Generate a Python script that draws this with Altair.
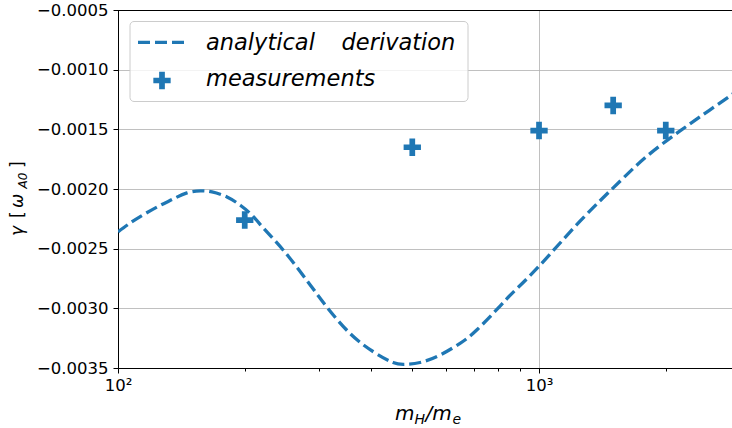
import altair as alt
import pandas as pd

# ---- data ----
curve_x = [100, 107.0, 115.1, 124.9, 134.4, 145.8, 156.9, 167.2, 181.5, 195.2,
           208.1, 223.8, 247.0, 280.6, 313.1, 355.7, 404.2, 450.0, 480.5, 521.6,
           581.9, 649.2, 711.2, 808.0, 868.8, 1005.5, 1251.4, 1557.2, 1802.8,
           2084.5, 2412.5, 2843.3, 2873]
curve_y = [-0.002359, -0.002284, -0.002214, -0.002144, -0.002088, -0.002033,
           -0.002016, -0.002025, -0.002067, -0.002136, -0.00222, -0.002345,
           -0.002513, -0.002764, -0.002987, -0.00321, -0.003364, -0.003454,
           -0.003469, -0.003454, -0.003391, -0.003293, -0.003182, -0.002981,
           -0.002864, -0.002638, -0.00227, -0.001935, -0.001726, -0.001554,
           -0.001395, -0.00122, -0.001208]
meas_x = [200, 500, 1000, 1500, 2000]
meas_y = [-0.00226, -0.00165, -0.00151, -0.00130, -0.00151]

y_ticks = [-0.0035, -0.0030, -0.0025, -0.0020, -0.0015, -0.0010, -0.0005]
x_ticks = [100, 200, 300, 400, 500, 600, 700, 800, 900, 1000, 2000]

BLUE = "#1f77b4"
FONT = "DejaVu Sans"
W, H = 614, 358
PLUS = "M-0.33,-1H0.33V-0.33H1V0.33H0.33V1H-0.33V0.33H-1V-0.33H-0.33Z"

curve = pd.DataFrame({"x": curve_x, "y": curve_y})
meas = pd.DataFrame({"x": meas_x, "y": meas_y})

xscale = alt.Scale(type="log", domain=[100, 2873], nice=False)
yscale = alt.Scale(domain=[-0.0035, -0.0005], nice=False, zero=False)

major = "datum.value == 100 || datum.value == 1000"

xaxis = alt.Axis(
    values=x_ticks,
    labelExpr="datum.value == 100 ? '10²' : (datum.value == 1000 ? '10³' : '')",
    tickSize={"condition": {"test": major, "value": 5}, "value": 3},
    gridOpacity={"condition": {"test": major, "value": 1}, "value": 0},
    grid=True, gridColor="#b0b0b0", gridWidth=0.8,
    labelFont=FONT, labelFontSize=16.5, labelColor="black", labelPadding=4,
    domainColor="black", tickColor="black", domainWidth=1, tickWidth=1,
    title=None, labelFlush=False, labelOverlap=False,
)
yaxis = alt.Axis(
    values=y_ticks,
    labelExpr="replace(format(datum.value, '.4f'), '-', '−')",
    grid=True, gridColor="#b0b0b0", gridWidth=0.8,
    tickSize=5, labelFont=FONT, labelFontSize=16.5, labelColor="black",
    labelPadding=5, domainColor="black", tickColor="black",
    domainWidth=1, tickWidth=1, title=None, labelFlush=False, labelOverlap=False,
)

line = alt.Chart(curve).mark_line(
    color=BLUE, strokeWidth=3.3, strokeDash=[12, 5], interpolate="natural", clip=True
).encode(
    x=alt.X("x:Q", scale=xscale, axis=xaxis),
    y=alt.Y("y:Q", scale=yscale, axis=yaxis),
)

points = alt.Chart(meas).mark_point(
    shape=PLUS, filled=True, size=300, color=BLUE, opacity=1
).encode(
    x=alt.X("x:Q", scale=xscale),
    y=alt.Y("y:Q", scale=yscale),
)

one = alt.Data(values=[{"a": 1}])

top_spine = alt.Chart(one).mark_rule(color="black", strokeWidth=1).encode(
    x=alt.value(0), x2=alt.value(W), y=alt.value(0.5)
)

legend_box = alt.Chart(one).mark_rect(
    fill="white", fillOpacity=0.8, stroke="#cccccc", strokeWidth=1, cornerRadius=4
).encode(x=alt.value(12), x2=alt.value(350), y=alt.value(11.5), y2=alt.value(91.5))

legend_line = alt.Chart(one).mark_rule(
    color=BLUE, strokeWidth=3.3, strokeDash=[12, 5]
).encode(x=alt.value(20), x2=alt.value(68), y=alt.value(32.3))

legend_pt = alt.Chart(one).mark_point(
    shape=PLUS, filled=True, size=300, color=BLUE, opacity=1
).encode(x=alt.value(44), y=alt.value(70.5))


def txt(s, x, y, size, italic=False, angle=0, align="left", baseline="alphabetic"):
    kw = dict(text=s, font=FONT, fontSize=size, color="black", align=align,
              baseline=baseline, angle=angle)
    if italic:
        kw["fontStyle"] = "italic"
    return alt.Chart(one).mark_text(**kw).encode(x=alt.value(x), y=alt.value(y))


texts = [
    txt("analytical", 88, 40, 22.5, italic=True),
    txt("derivation", 223.5, 40, 22.5, italic=True),
    txt("measurements", 88, 76, 22.5, italic=True),
    # x title  m_H / m_e
    txt("m", 277, 410, 20, italic=True),
    txt("H", 296.5, 414, 14, italic=True),
    txt("/m", 307.5, 410, 20, italic=True),
    txt("e", 334.5, 414, 14, italic=True),
    # y title  γ [ω_A0]
    txt("γ", -95, 226, 17, italic=True, angle=270),
    txt("[", -95, 208, 17, angle=270),
    txt("ω", -95, 198, 17, italic=True, angle=270),
    txt("A0", -91, 178.5, 12, italic=True, angle=270),
    txt("]", -95, 158, 17, angle=270),
]

chart = alt.layer(line, points, top_spine, legend_box, legend_line, legend_pt, *texts).properties(
    width=W, height=H,
    autosize=alt.AutoSizeParams(type="none"),
    padding={"left": 118, "top": 10, "right": 0, "bottom": 60},
    background="white",
).configure_view(stroke=None)

chart.save("out.html", embed_options={"renderer": "svg", "actions": False})
